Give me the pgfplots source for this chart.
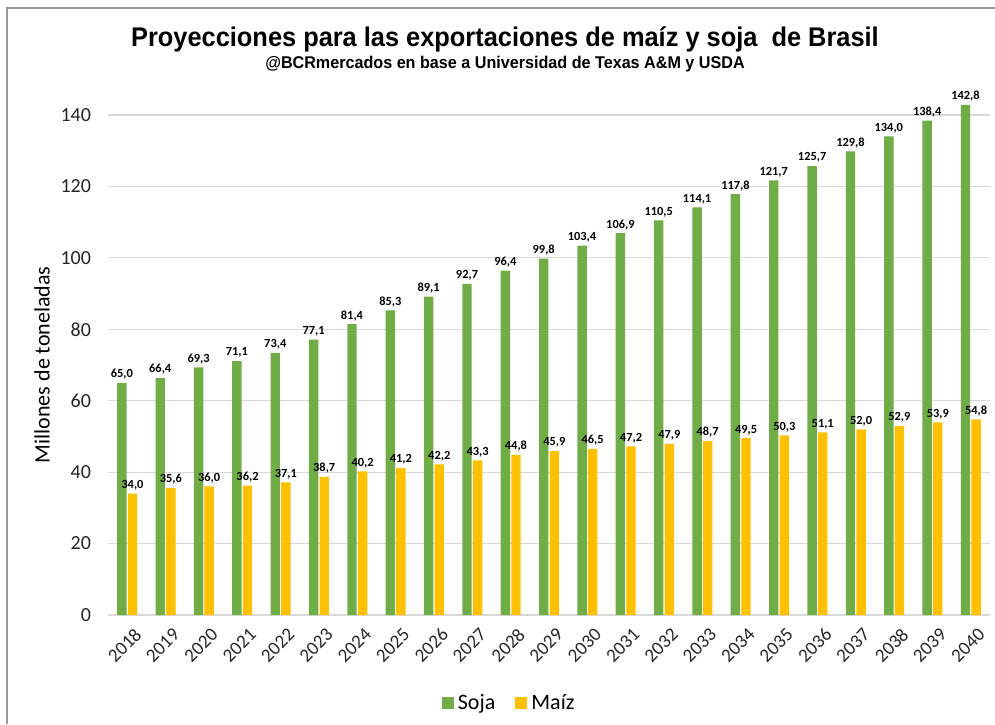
\documentclass[border=0pt]{standalone}
\usepackage{fontspec}
\setmainfont{Carlito}
\newfontfamily\titlefont[FakeStretch=0.94]{Liberation Sans}
\newfontfamily\subfont[FakeStretch=0.95]{Liberation Sans}
\usepackage{pgfplots}
\pgfplotsset{compat=1.18}
\usepackage{pgfplotstable}
\definecolor{soja}{HTML}{70AD47}
\definecolor{maiz}{HTML}{FFC000}
\definecolor{gridc}{HTML}{D9D9D9}
\pgfplotstableread{
x year soja maiz
0 2018 65.0 34.0
1 2019 66.4 35.6
2 2020 69.3 36.0
3 2021 71.1 36.2
4 2022 73.4 37.1
5 2023 77.1 38.7
6 2024 81.4 40.2
7 2025 85.3 41.2
8 2026 89.1 42.2
9 2027 92.7 43.3
10 2028 96.4 44.8
11 2029 99.8 45.9
12 2030 103.4 46.5
13 2031 106.9 47.2
14 2032 110.5 47.9
15 2033 114.1 48.7
16 2034 117.8 49.5
17 2035 121.7 50.3
18 2036 125.7 51.1
19 2037 129.8 52.0
20 2038 134.0 52.9
21 2039 138.4 53.9
22 2040 142.8 54.8
}\datatable
\begin{document}
\begin{tikzpicture}
\begin{axis}[
  at={(0,0)}, anchor=south west,
  width=441pt, height=267.9pt, scale only axis,
  xmin=-0.5, xmax=22.5, ymin=0, ymax=150,
  ybar=0.6pt, bar width=4.7pt,
  xtick={0,...,22},
  xticklabels from table={\datatable}{year},
  ytick={0,20,...,140},
  major tick length=0pt,
  axis line style={draw=none},
  ymajorgrids, grid style={gridc, line width=0.6pt},
  /pgf/number format/assume math mode=true,
  x tick label style={rotate=45, anchor=north east, font=\fontsize{9.5}{11}\selectfont, color=black!85, yshift=-3pt, xshift=1.5pt},
  y tick label style={font=\fontsize{10}{12}\selectfont, color=black!85, xshift=-5pt},
  ylabel={Millones de toneladas},
  every axis y label/.style={at={(rel axis cs:0,0.467)}, xshift=-33pt, rotate=90, anchor=center, font=\fontsize{11}{13}\selectfont},
  nodes near coords,
  nodes near coords style={font=\bfseries\fontsize{6.2}{7}\selectfont, inner sep=1.5pt, color=black,
    /pgf/number format/.cd, fixed, fixed zerofill, precision=1, use comma, assume math mode=true},
  legend style={at={(rel axis cs:0.456,0)}, yshift=-44pt, anchor=center, draw=none, legend columns=2,
    font=\fontsize{11}{13}\selectfont, /tikz/every even column/.append style={column sep=8pt}},
  legend image code/.code={\fill[#1] (0pt,-3pt) rectangle (6pt,3pt);},
]
\addplot[fill=soja, draw=none] table[x=x, y=soja] {\datatable};
\addplot[fill=maiz, draw=none] table[x=x, y=maiz] {\datatable};
\legend{Soja, Maíz}
\end{axis}
\node[font=\titlefont\bfseries\fontsize{13.5}{16}\selectfont] at (198.5pt,288pt) {Proyecciones para las exportaciones de maíz y soja\ \ de Brasil};
\node[font=\subfont\bfseries\fontsize{8.5}{10}\selectfont] at (198.5pt,275.5pt) {@BCRmercados en base a Universidad de Texas A\&M y USDA};
\draw[gray!80, line width=1pt] (-50.5pt,-54.5pt) -- (-50.5pt,303.5pt) -- (443.5pt,303.5pt);
\pgfresetboundingbox
\path[use as bounding box] (-54pt,-54.5pt) rectangle (443.5pt,307.5pt);
\end{tikzpicture}
\end{document}
